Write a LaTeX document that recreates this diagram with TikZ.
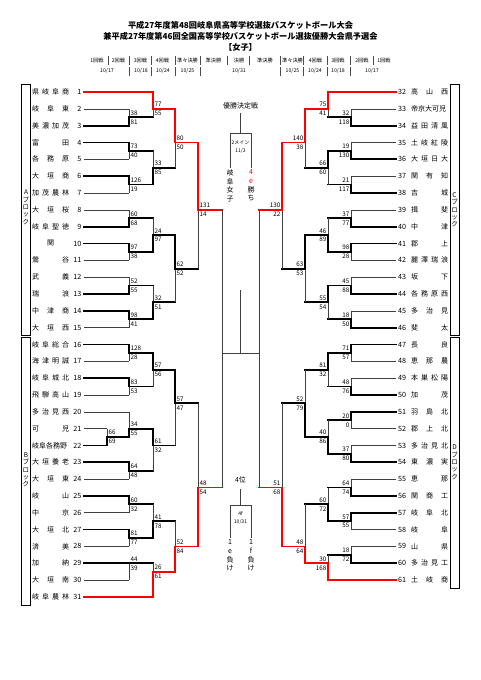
\documentclass[tikz,border=0pt]{standalone}
\usepackage{fontspec}
\setmainfont{Noto Sans CJK JP}
\usetikzlibrary{positioning}

\begin{document}
\begin{tikzpicture}[x=1pt,y=-8.415pt,
  lose/.style={line width=0.55pt,black!75},
  win/.style={line width=1.8pt,black,line cap=rect},
  champ/.style={line width=1.8pt,red,line cap=rect},
  sc/.style={font=\fontsize{6.3}{6.3}\selectfont,inner sep=0.8pt},
  nm/.style={font=\fontsize{7}{7}\selectfont,inner sep=0pt},
  no/.style={font=\fontsize{7.2}{7.2}\selectfont,inner sep=0pt},
  hd/.style={font=\fontsize{5.2}{5.2}\selectfont,inner sep=0pt},
  blk/.style={font=\fontsize{6.5}{7.3}\selectfont,align=center,inner sep=0pt},
  vt/.style={font=\fontsize{7}{8.7}\selectfont,align=center,inner sep=0pt}]

\useasboundingbox (0,-10.933) rectangle (481,69.875);
\fill[white] (0,-10.933) rectangle (481,69.875);

\node[font=\fontsize{8.2}{8.2}\selectfont\bfseries] (title1) at (240.5,-7.96) {平成27年度第48回岐阜県高等学校選抜バスケットボール大会};
\node[font=\fontsize{8.2}{8.2}\selectfont\bfseries] (title2) at (240.5,-6.65) {兼平成27年度第46回全国高等学校バスケットボール選抜優勝大会県予選会};
\node[font=\fontsize{8.2}{8.2}\selectfont\bfseries] (girls) at (240.5,-5.35) {【女子】};

% round names and dates
\node[hd] (r1) at (97,-3.74) {1回戦};
\node[hd] (r2) at (118.5,-3.74) {2回戦};
\node[hd] (r3) at (140.5,-3.74) {3回戦};
\node[hd] (r4) at (162.5,-3.74) {4回戦};
\node[hd] (r5) at (187.5,-3.74) {準々決勝};
\node[hd] (r6) at (213.5,-3.74) {準決勝};
\node[hd] (r7) at (239,-3.74) {決勝};
\node[hd] (r8) at (265,-3.74) {準決勝};
\node[hd] (r9) at (292.5,-3.74) {準々決勝};
\node[hd] (r10) at (315.5,-3.74) {4回戦};
\node[hd] (r11) at (338,-3.74) {3回戦};
\node[hd] (r12) at (362,-3.74) {2回戦};
\node[hd] (r13) at (384,-3.74) {1回戦};
\node[hd] (d1) at (107,-2.5) {10/17};
\node[hd] (d2) at (141,-2.5) {10/18};
\node[hd] (d3) at (163,-2.5) {10/24};
\node[hd] (d4) at (187.5,-2.5) {10/25};
\node[hd] (d5) at (239,-2.5) {10/31};
\node[hd] (d6) at (292.5,-2.5) {10/25};
\node[hd] (d7) at (315,-2.5) {10/24};
\node[hd] (d8) at (338,-2.5) {10/18};
\node[hd] (d9) at (372,-2.5) {10/17};
\foreach \x in {108,129.5,151,175,200,227,249,280,303,327,350,373}
  \draw[black!70,line width=0.4pt] (\x,-4.3) -- (\x,-3.15);
\foreach \x in {129.5,151,175,200,280,303,327,350}
  \draw[black!70,line width=0.4pt] (\x,-3.0) -- (\x,-1.95);

% blocks
\draw[line width=0.5pt] (21.5,-0.95) rectangle (30.5,28.9);
\draw[line width=0.5pt] (21.5,29.1) rectangle (30.5,61);
\draw[line width=0.5pt] (450,-0.95) rectangle (459,28.9);
\draw[line width=0.5pt] (450,29.1) rectangle (459,59);
\node[blk] (ba) at (26,13.7) {A\\ブ\\ロ\\ッ\\ク};
\node[blk] (bb) at (26,44.9) {B\\ブ\\ロ\\ッ\\ク};
\node[blk] (bc) at (454.5,14) {C\\ブ\\ロ\\ッ\\ク};
\node[blk] (bd) at (454.5,44) {D\\ブ\\ロ\\ッ\\ク};

% left teams
\foreach \i/\nm/\ex/\st in {1/県 岐 阜 商/153/champ, 2/岐 阜 東/129/lose, 3/美 濃 加 茂/129/win,
  4/富 田/129/win, 5/各 務 原/129/lose, 6/大 垣 商/129/win, 7/加 茂 農 林/129/lose,
  8/大 垣 桜/129/lose, 9/岐 阜 聖 徳/129/win, 10/\hfil 関\hfil/129/win, 11/鶯 谷/129/lose,
  12/武 義/129/lose, 13/瑞 浪/129/win, 14/中 津 商/129/win, 15/大 垣 西/129/lose,
  16/岐 阜 総 合/129/win, 17/海 津 明 誠/129/lose, 18/岐 阜 城 北/129/win, 19/飛 騨 高 山/129/lose,
  20/多 治 見 西/129/lose, 21/可 児/107/lose, 22/岐阜各務野/107/win, 23/大 垣 養 老/129/win,
  24/大 垣 東/129/lose, 25/岐 山/129/win, 26/中 京/129/lose, 27/大 垣 北/129/win,
  28/済 美/129/lose, 29/加 納/129/win, 30/大 垣 南/129/lose, 31/岐 阜 農 林/153/champ} {
  \pgfmathsetmacro\r{2*(\i-1)}
  \node[nm,anchor=west] (n\i) at (32,\r) {\makebox[37pt][s]{\nm}};
  \node[no,anchor=east] (k\i) at (81.5,\r) {\i};
  \coordinate (t\i) at (84,\r);
  \draw[\st] (t\i) -- (\ex,\r);
}

% right teams
\foreach \i/\nm/\ex/\st in {32/高 山 西/328/champ, 33/帝京大可児/351/lose, 34/益 田 清 風/351/win,
  35/土 岐 紅 陵/351/lose, 36/大 垣 日 大/351/win, 37/関 有 知/351/lose, 38/吉 城/351/win,
  39/揖 斐/351/lose, 40/中 津/351/win, 41/郡 上/351/win, 42/麗 澤 瑞 浪/351/lose,
  43/坂 下/351/lose, 44/各 務 原 西/351/win, 45/多 治 見/351/lose, 46/斐 太/351/win,
  47/長 良/351/win, 48/恵 那 農/351/lose, 49/本 巣 松 陽/351/lose, 50/加 茂/351/win,
  51/羽 島 北/351/win, 52/郡 上 北/351/lose, 53/多 治 見 北/351/lose, 54/東 濃 実/351/win,
  55/恵 那/351/lose, 56/関 商 工/351/win, 57/岐 阜 北/351/win, 58/岐 阜/351/lose,
  59/山 県/351/lose, 60/多 治 見 工/351/win, 61/土 岐 商/328/champ} {
  \pgfmathsetmacro\r{2*(\i-32)}
  \node[nm,anchor=west] (n\i) at (411,\r) {\makebox[37pt][s]{\nm}};
  \node[no,anchor=west] (k\i) at (398,\r) {\i};
  \coordinate (t\i) at (396,\r);
  \draw[\st] (t\i) -- (\ex,\r);
}

% left bouts: x/next/top/bottom/out/winner/style/score/score
\foreach \x/\nx/\t/\b/\o/\w/\st/\sa/\sb in {107/129/40/42/41/42/win/66/69,
  129/153/2/4/3/4/win/38/81, 129/153/6/8/7/6/win/73/40, 129/153/10/12/11/10/win/126/19,
  129/153/14/16/15/16/win/60/68, 129/153/18/20/19/18/win/97/38, 129/153/22/24/23/24/win/52/55,
  129/153/26/28/27/26/win/98/41, 129/153/30/32/31/30/win/128/28, 129/153/34/36/35/34/win/83/53,
  129/153/38/41/40/41/win/34/55, 129/153/44/46/45/44/win/64/48, 129/153/48/50/49/48/win/60/32,
  129/153/52/54/53/52/win/81/77, 129/153/56/58/56/56/win/44/39,
  153/175/0/3/2/0/champ/77/55, 153/175/7/11/9/11/win/33/85, 153/175/15/19/17/19/win/24/97,
  153/175/23/27/25/27/win/32/51, 153/175/31/35/33/31/win/57/56, 153/175/40/45/42/40/win/61/32,
  153/175/49/53/51/53/win/41/78, 153/175/56/60/57/60/champ/26/61,
  175/198/2/9/6/2/champ/80/50, 175/198/17/25/21/17/win/62/52, 175/198/33/42/37/33/win/57/47,
  175/198/51/57/54/57/champ/52/84,
  198/222/6/21/14/6/champ/131/14, 198/222/37/54/47/54/champ/48/54} {
  \draw[lose] (\x,\t) -- (\x,\b);
  \draw[\st] (\x,\w) -- (\x,\o) -- (\nx,\o);
  \node[sc,anchor=west,xshift=0.6pt,yshift=4.3pt] (s\x-\o) at (\x,\o) {\sa};
  \node[sc,anchor=west,xshift=0.6pt,yshift=-4.6pt] (u\x-\o) at (\x,\o) {\sb};
}

% right bouts
\foreach \x/\nx/\t/\b/\o/\w/\st/\sa/\sb in {351/328/2/4/3/4/win/32/118,
  351/328/6/8/7/8/win/19/130, 351/328/10/12/11/12/win/21/117, 351/328/14/16/15/16/win/37/77,
  351/328/18/20/19/18/win/98/28, 351/328/22/24/23/24/win/45/88, 351/328/26/28/27/28/win/18/50,
  351/328/30/32/31/30/win/71/57, 351/328/34/36/35/36/win/48/76, 351/328/38/40/39/38/win/20/0,
  351/328/42/44/43/44/win/37/80, 351/328/46/48/47/48/win/64/74, 351/328/50/52/51/50/win/57/55,
  351/328/54/56/55/56/win/18/72,
  328/305/0/3/2/0/champ/75/41, 328/305/7/11/9/7/win/66/60, 328/305/15/19/17/19/win/46/89,
  328/305/23/27/25/23/win/55/54, 328/305/31/35/33/31/win/81/32, 328/305/39/43/41/43/win/40/86,
  328/305/47/51/49/51/win/60/72, 328/305/55/58/56/58/champ/30/168,
  305/282/2/9/6/2/champ/140/38, 305/282/17/25/21/17/win/63/53, 305/282/33/41/37/41/win/52/79,
  305/282/49/56/54/56/champ/48/64,
  282/259/6/21/14/6/champ/130/22, 282/259/37/54/47/54/champ/51/68} {
  \draw[lose] (\x,\t) -- (\x,\b);
  \draw[\st] (\x,\w) -- (\x,\o) -- (\nx,\o);
  \node[sc,anchor=east,xshift=-0.6pt,yshift=4.3pt] (s\x-\o) at (\x,\o) {\sa};
  \node[sc,anchor=east,xshift=-0.6pt,yshift=-4.6pt] (u\x-\o) at (\x,\o) {\sb};
}

% semifinals
\coordinate (sfl) at (222,31);
\coordinate (sfr) at (259,31);
\coordinate (sfm) at (240.5,31);
\draw[lose] (222,14) -- (222,47);
\draw[lose] (259,14) -- (259,47);
\draw[lose] (sfl) -- (sfr);
\draw[lose] (sfm) -- (240.5,23.5);

% final
\node[font=\fontsize{7}{7}\selectfont,inner sep=0pt] (fin) at (240.5,1.66) {優勝決定戦};
\coordinate (fl) at (230,4.87);
\coordinate (fr) at (251,4.87);
\draw[lose] (240.5,2.5) -- (240.5,4.87);
\draw[lose] (230,9.03) -- (fl) -- (fr) -- (251,9.03);
\node[font=\fontsize{5}{5}\selectfont,inner sep=0pt] (fcourt) at (240.5,6.06) {2メイン};
\node[font=\fontsize{5}{5}\selectfont,inner sep=0pt] (fday) at (240.5,7.01) {11/3};
\node[vt,anchor=north] (fa) at (230,9.2) {岐\\阜\\女\\子};
\node[vt,anchor=north] (fb) at (251,9.2) {\textcolor{red}{4}\\\textcolor{red}{e}\\勝\\ち};

% third place
\node[font=\fontsize{7}{7}\selectfont,inner sep=0pt] (third) at (240.5,46.11) {4位};
\coordinate (tl) at (230,49.08);
\coordinate (tr) at (251,49.08);
\draw[lose] (240.5,47.18) -- (240.5,49.08);
\draw[lose] (230,53) -- (tl) -- (tr) -- (251,53);
\node[font=\fontsize{5}{5}\selectfont,inner sep=0pt] (tgame) at (240.5,50.03) {4f};
\node[font=\fontsize{5}{5}\selectfont,inner sep=0pt] (tday) at (240.5,51.1) {10/31};
\node[vt,anchor=north] (ta) at (230,53.2) {1\\e\\負\\け};
\node[vt,anchor=north] (tb) at (251,53.2) {1\\f\\負\\け};
\end{tikzpicture}
\end{document}
